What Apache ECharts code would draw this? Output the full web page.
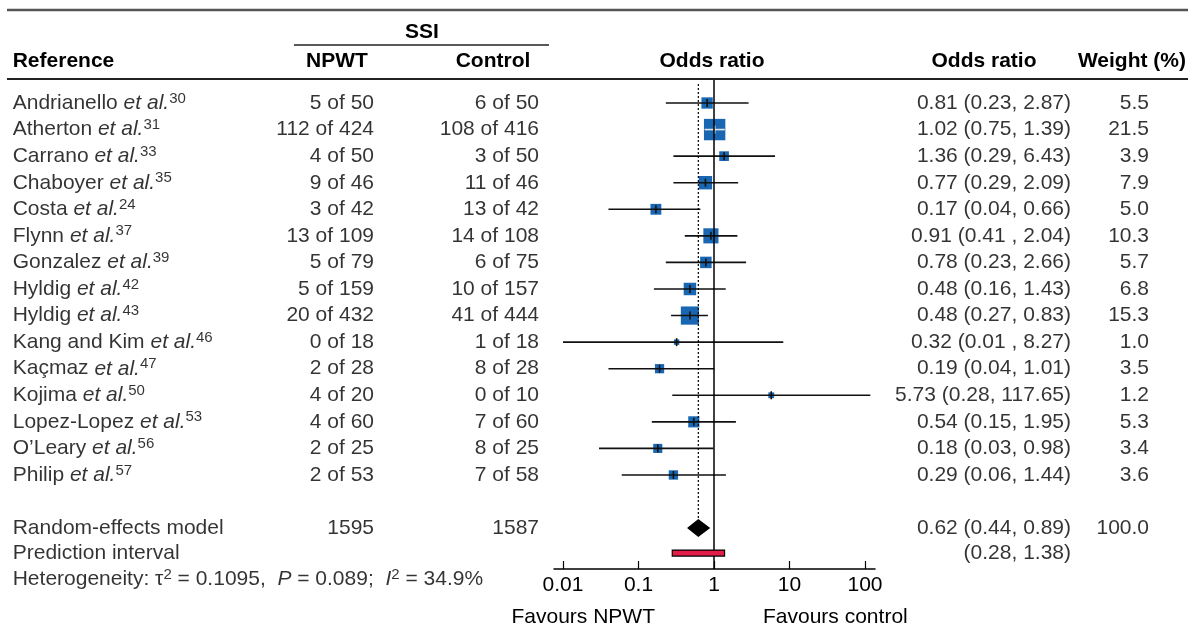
<!DOCTYPE html>
<html>
<head>
<meta charset="utf-8">
<title>NPWT vs control: SSI forest plot</title>
<script src="https://cdn.jsdelivr.net/npm/echarts@6/dist/echarts.min.js"></script>
<style>
  html, body { margin: 0; padding: 0; background: #fff; }
  #chart { width: 1189px; height: 627px; }
</style>
</head>
<body>
<div id="chart"></div>
<script>
// ---- data ----
var studies = ['Andrianello', 'Atherton', 'Carrano', 'Chaboyer', 'Costa', 'Flynn', 'Gonzalez', 'Hyldig',
  'Hyldig', 'Kang and Kim', 'Kaçmaz', 'Kojima', 'Lopez-Lopez', "O\u2019Leary", 'Philip'];
var refs = [30, 31, 33, 35, 24, 37, 39, 42, 43, 46, 47, 50, 53, 56, 57];
var npwtEvents = [5, 112, 4, 9, 3, 13, 5, 5, 20, 0, 2, 4, 4, 2, 2];
var npwtTotal = [50, 424, 50, 46, 42, 109, 79, 159, 432, 18, 28, 20, 60, 25, 53];
var ctrlEvents = [6, 108, 3, 11, 13, 14, 6, 10, 41, 1, 8, 0, 7, 8, 7];
var ctrlTotal = [50, 416, 50, 46, 42, 108, 75, 157, 444, 18, 28, 10, 60, 25, 58];
var orEst = [0.81, 1.02, 1.36, 0.77, 0.17, 0.91, 0.78, 0.48, 0.48, 0.32, 0.19, 5.73, 0.54, 0.18, 0.29];
var orLow = [0.23, 0.75, 0.29, 0.29, 0.04, 0.41, 0.23, 0.16, 0.27, 0.01, 0.04, 0.28, 0.15, 0.03, 0.06];
var orHigh = [2.87, 1.39, 6.43, 2.09, 0.66, 2.04, 2.66, 1.43, 0.83, 8.27, 1.01, 117.65, 1.95, 0.98, 1.44];
var weights = [5.5, 21.5, 3.9, 7.9, 5.0, 10.3, 5.7, 6.8, 15.3, 1.0, 3.5, 1.2, 5.3, 3.4, 3.6];
var orLabels = ['0.81 (0.23, 2.87)', '1.02 (0.75, 1.39)', '1.36 (0.29, 6.43)', '0.77 (0.29, 2.09)',
  '0.17 (0.04, 0.66)', '0.91 (0.41 , 2.04)', '0.78 (0.23, 2.66)', '0.48 (0.16, 1.43)', '0.48 (0.27, 0.83)',
  '0.32 (0.01 , 8.27)', '0.19 (0.04, 1.01)', '5.73 (0.28, 117.65)', '0.54 (0.15, 1.95)', '0.18 (0.03, 0.98)',
  '0.29 (0.06, 1.44)'];
var pooledTotals = [1595, 1587];
var pooledOR = [0.62, 0.44, 0.89];   // estimate, lower, upper
var pooledWeight = '100.0';
var predInterval = [0.28, 1.38];
var xTicks = [0.01, 0.1, 1, 10, 100];

// ---- layout ----
var FONT = "'Liberation Sans', Arial, Helvetica, sans-serif";
var FS = 21;
var ROW_TOP = 103, ROW_H = 26.57;          // pixel y of first study row, row pitch
var REM_ROW = 16, PRED_ROW = 16.94, HET_ROW = 17.92;
var PLOT_L = 554, PLOT_R = 875, PLOT_TOP = 80, PLOT_BOT = 569;
var ONE_X = 714, DECADE = 75.5;
var SQUARE = '#1967b2';

function rowAt(py) { return (py - ROW_TOP) / ROW_H; }

var studyRows = studies.map(function (s, i) { return i; });
var forestData = orEst.map(function (v, i) { return [v, orLow[i], orHigh[i], weights[i], i]; });

var chart = echarts.init(document.getElementById('chart'));

function textSeries(xPos, rows, texts, position, rich) {
  return {
    type: 'scatter', xAxisIndex: 1, yAxisIndex: 1, silent: true, symbolSize: 0,
    data: rows.map(function (r) { return [xPos, r]; }),
    label: {
      show: true, position: position, distance: 0, color: '#000',
      fontFamily: FONT, fontSize: FS, lineHeight: 24,
      formatter: function (p) { return texts[p.dataIndex]; },
      rich: rich || {}
    }
  };
}

var richName = {
  i: { fontStyle: 'italic', fontSize: FS, fontFamily: FONT, color: '#000', lineHeight: 24 },
  s: { fontSize: 15, fontFamily: FONT, color: '#000', verticalAlign: 'top', lineHeight: 12 }
};

var nameTexts = studies.map(function (s, i) { return s + ' {i|et al.}{s|' + refs[i] + '}'; });
nameTexts.push('Random-effects model', 'Prediction interval',
  'Heterogeneity: \u03c4{s|2} = 0.1095,  {i|P} = 0.089;  {i|I}{s|2} = 34.9%');
var nameRows = studyRows.concat([REM_ROW, PRED_ROW, HET_ROW]);

var npwtTexts = npwtEvents.map(function (e, i) { return e + ' of ' + npwtTotal[i]; }).concat([String(pooledTotals[0])]);
var ctrlTexts = ctrlEvents.map(function (e, i) { return e + ' of ' + ctrlTotal[i]; }).concat([String(pooledTotals[1])]);
var countRows = studyRows.concat([REM_ROW]);
var orTexts = orLabels.concat([pooledOR[0].toFixed(2) + ' (' + pooledOR[1].toFixed(2) + ', ' + pooledOR[2].toFixed(2) + ')',
  '(' + predInterval[0].toFixed(2) + ', ' + predInterval[1].toFixed(2) + ')']);
var orRows = studyRows.concat([REM_ROW, PRED_ROW]);
var wTexts = weights.map(function (w) { return w.toFixed(1); }).concat([pooledWeight]);

function hline(x1, x2, y, w, c) {
  return { type: 'line', shape: { x1: x1, y1: y, x2: x2, y2: y }, style: { stroke: c, lineWidth: w }, silent: true };
}
function htext(x, y, t, align, bold) {
  return { type: 'text', x: x, y: y, silent: true,
    style: { text: t, fill: '#000', fontFamily: FONT, fontSize: FS, fontWeight: bold ? 'bold' : 'normal',
      align: align, verticalAlign: 'middle' } };
}

var option = {
  animation: false,
  backgroundColor: '#fff',
  grid: [
    { left: PLOT_L, width: PLOT_R - PLOT_L, top: PLOT_TOP, height: PLOT_BOT - PLOT_TOP },
    { left: 0, right: 0, top: 0, bottom: 0 }
  ],
  xAxis: [
    {
      type: 'log', gridIndex: 0, logBase: 10, position: 'bottom',
      min: Math.pow(10, -(ONE_X - PLOT_L) / DECADE),
      max: Math.pow(10, (PLOT_R - ONE_X) / DECADE),
      axisLine: { show: true, onZero: false, lineStyle: { color: '#000', width: 1.5 } },
      axisTick: { show: true, inside: true, length: 8, customValues: xTicks, lineStyle: { color: '#000', width: 1.2 } },
      axisLabel: { show: true, customValues: xTicks, color: '#000', fontFamily: FONT, fontSize: FS, margin: 6,
        formatter: function (v) { return String(+v.toPrecision(3)); } },
      splitLine: { show: false }
    },
    { type: 'value', gridIndex: 1, min: 0, max: 1189, show: false }
  ],
  yAxis: [
    { type: 'value', gridIndex: 0, inverse: true, min: rowAt(PLOT_TOP), max: rowAt(PLOT_BOT), show: false },
    { type: 'value', gridIndex: 1, inverse: true, min: rowAt(0), max: rowAt(627), show: false }
  ],
  series: [
    { // line of no effect
      type: 'line', xAxisIndex: 0, yAxisIndex: 0, symbol: 'none', silent: true,
      data: [[1, rowAt(PLOT_TOP)], [1, rowAt(PLOT_BOT)]],
      lineStyle: { color: '#000', width: 1.5 }
    },
    { // pooled estimate reference line
      type: 'line', xAxisIndex: 0, yAxisIndex: 0, symbol: 'none', silent: true,
      data: [[pooledOR[0], rowAt(84)], [pooledOR[0], REM_ROW]],
      lineStyle: { color: '#000', width: 1.2, type: [2, 2] }
    },
    { // study squares + CIs
      type: 'custom', xAxisIndex: 0, yAxisIndex: 0, silent: true, clip: false, z: 3,
      data: forestData,
      encode: { x: [0, 1, 2], y: 4 },
      renderItem: function (params, api) {
        var row = api.value(4);
        var c = api.coord([api.value(0), row]);
        var l = api.coord([api.value(1), row]);
        var h = api.coord([api.value(2), row]);
        var s = 4.4 * Math.sqrt(api.value(3)) + 1;
        var inside = l[0] >= c[0] - s / 2 && h[0] <= c[0] + s / 2;
        var lc = inside ? '#e6e6e6' : '#111';
        return { type: 'group', children: [
          { type: 'rect', shape: { x: c[0] - s / 2, y: c[1] - s / 2, width: s, height: s }, style: { fill: SQUARE } },
          { type: 'line', shape: { x1: l[0], y1: c[1], x2: h[0], y2: c[1] }, style: { stroke: lc, lineWidth: 1.6 } },
          { type: 'line', shape: { x1: c[0], y1: c[1] - 4, x2: c[0], y2: c[1] + 4 }, style: { stroke: lc, lineWidth: 1.6 } }
        ] };
      }
    },
    { // pooled diamond
      type: 'custom', xAxisIndex: 0, yAxisIndex: 0, silent: true, z: 4,
      data: [[pooledOR[0], pooledOR[1], pooledOR[2], REM_ROW]],
      encode: { x: [0, 1, 2], y: 3 },
      renderItem: function (params, api) {
        var row = api.value(3);
        var c = api.coord([api.value(0), row]);
        var l = api.coord([api.value(1), row]);
        var h = api.coord([api.value(2), row]);
        return { type: 'polygon', shape: { points: [[l[0], c[1]], [c[0], c[1] - 9], [h[0], c[1]], [c[0], c[1] + 9]] },
          style: { fill: '#000' } };
      }
    },
    { // prediction interval
      type: 'custom', xAxisIndex: 0, yAxisIndex: 0, silent: true, z: 4,
      data: [[predInterval[0], predInterval[1], PRED_ROW]],
      encode: { x: [0, 1], y: 2 },
      renderItem: function (params, api) {
        var l = api.coord([api.value(0), api.value(2)]);
        var h = api.coord([api.value(1), api.value(2)]);
        return { type: 'rect', shape: { x: l[0], y: l[1] - 3, width: h[0] - l[0], height: 6 },
          style: { fill: '#e31c48', stroke: '#000', lineWidth: 1.2 } };
      }
    },
    textSeries(12.7, nameRows, nameTexts, 'right', richName),
    textSeries(374, countRows, npwtTexts, 'left'),
    textSeries(539, countRows, ctrlTexts, 'left'),
    textSeries(1071, orRows, orTexts, 'left'),
    textSeries(1149, countRows, wTexts, 'left')
  ],
  graphic: [
    hline(7, 1188, 10, 2.5, '#555'),
    hline(294, 549, 45, 1.5, '#222'),
    hline(7, 1188, 79, 1.8, '#222'),
    htext(422, 32, 'SSI', 'center', true),
    htext(12.7, 61, 'Reference', 'left', true),
    htext(337, 61, 'NPWT', 'center', true),
    htext(493, 61, 'Control', 'center', true),
    htext(712, 61, 'Odds ratio', 'center', true),
    htext(984, 61, 'Odds ratio', 'center', true),
    htext(1186, 61, 'Weight (%)', 'right', true),
    htext(655, 617, 'Favours NPWT', 'right', false),
    htext(763, 617, 'Favours control', 'left', false)
  ]
};

chart.setOption(option);
</script>
</body>
</html>
